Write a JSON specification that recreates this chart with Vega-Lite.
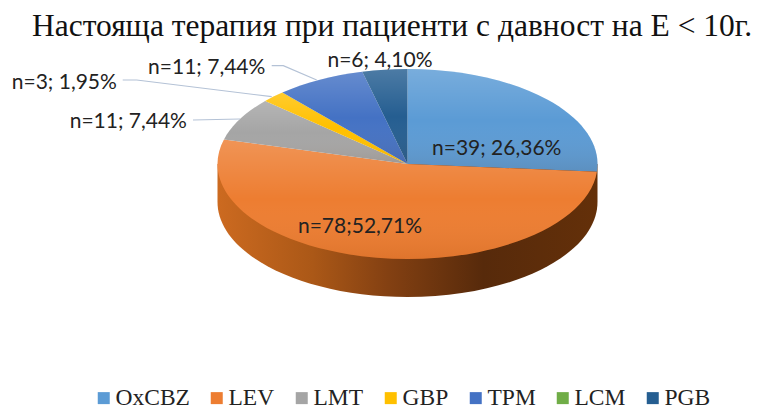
{
"$schema":"https://vega.github.io/schema/vega-lite/v6.json",
"width":770,"height":411,"padding":0,"autosize":{"type":"none"},
"background":"white",
"title":{"text":"Настояща терапия при пациенти с давност на Е < 10г.","font":"Liberation Serif","fontSize":31.5,"fontWeight":"normal","color":"#111111","anchor":"middle","dx":7,"offset":-42,"frame":"group"},
"config":{"view":{"stroke":null}},
"data":{"values":[
{"drug":"OxCBZ","slice":"OxCBZ slice","n":39,"pct":26.36,"label":"n=39; 26,36%"},
{"drug":"LEV","slice":"LEV slice","n":78,"pct":52.71,"label":"n=78;52,71%"},
{"drug":"LMT","slice":"LMT slice","n":11,"pct":7.44,"label":"n=11; 7,44%"},
{"drug":"GBP","slice":"GBP slice","n":3,"pct":1.95,"label":"n=3; 1,95%"},
{"drug":"TPM","slice":"TPM slice","n":11,"pct":7.44,"label":"n=11; 7,44%"},
{"drug":"LCM","slice":"LCM slice","n":0,"pct":0,"label":""},
{"drug":"PGB","slice":"PGB slice","n":6,"pct":4.10,"label":"n=6; 4,10%"}
]},
"layer":[
{"transform":[{"filter":"datum.drug==='LEV'"}],
 "mark":{"type":"point","size":4,"filled":true,"opacity":1,"strokeWidth":0,
  "shape":"M212.5,-41.5 L212.5,-3.5 A190,95 0 0 1 -167.5,-3.5 L-167.5,-41.5 Z",
  "fill":{"gradient":"linear","x1":0,"y1":0,"x2":1,"y2":0,"stops":[{"offset":0,"color":"#cc6a20"},{"offset":0.25,"color":"#ab5817"},{"offset":0.45,"color":"#834012"},{"offset":0.7,"color":"#572a0b"},{"offset":1,"color":"#643009"}]}},
 "encoding":{}},
{"mark":{"type":"point","size":4,"filled":true,"opacity":1,"strokeWidth":0},
 "encoding":{
  "color":{"field":"drug","type":"nominal","scale":{"domain":["OxCBZ","LEV","LMT","GBP","TPM","LCM","PGB"],"range":["#5B9BD5","#ED7D31","#A5A5A5","#FFC000","#4472C4","#70AD47","#255E91"]},
   "legend":{"title":null,"orient":"none","legendX":92,"legendY":386,"direction":"horizontal","columns":7,"symbolType":"square","symbolSize":144,"symbolStrokeWidth":0,"labelFont":"Liberation Serif","labelFontSize":23.5,"labelColor":"#222222","columnPadding":15,"labelOffset":0}},
  "shape":{"field":"slice","type":"nominal","legend":null,"scale":{"domain":["OxCBZ slice","LEV slice","LMT slice","GBP slice","TPM slice","LCM slice","PGB slice"],"range":[
   "M22.5,-41.5 L22.5,-136.5 A190,95 0 0 1 211.9,-33.8 Z",
   "M22.5,-41.5 L211.9,-33.8 A190,95 0 1 1 -161,-66.1 Z",
   "M22.5,-41.5 L-161,-66.1 A190,95 0 0 1 -119.8,-104.5 Z",
   "M22.5,-41.5 L-119.8,-104.5 A190,95 0 0 1 -102.6,-113 Z",
   "M22.5,-41.5 L-102.6,-113 A190,95 0 0 1 -22.7,-133.75 Z",
   "M0,0",
   "M22.5,-41.5 L-22.7,-133.75 A190,95 0 0 1 22.5,-136.5 Z"]}}
 }},
{"mark":{"type":"point","size":4,"filled":true,"opacity":1,"strokeWidth":0,
  "fill":{"gradient":"linear","x1":0,"y1":0,"x2":0,"y2":1,"stops":[{"offset":0,"color":"rgba(255,255,255,0.18)"},{"offset":0.5,"color":"rgba(255,255,255,0)"},{"offset":1,"color":"rgba(100,40,0,0.1)"}]}},
 "encoding":{"shape":{"field":"slice","type":"nominal","legend":null}}},
{"transform":[{"filter":"datum.drug==='LMT'"}],"mark":{"type":"point","size":4,"filled":false,"fillOpacity":0,"opacity":1,"stroke":"#b4c2d6","strokeWidth":1.2,"shape":"M-192,-85.5 L-145,-86.5"},"encoding":{}},
{"transform":[{"filter":"datum.drug==='GBP'"}],"mark":{"type":"point","size":4,"filled":false,"fillOpacity":0,"opacity":1,"stroke":"#b4c2d6","strokeWidth":1.2,"shape":"M-262.3,-125.5 L-248.3,-125.5 L-113.3,-108.8"},"encoding":{}},
{"transform":[{"filter":"datum.drug==='TPM'"}],"mark":{"type":"point","size":4,"filled":false,"fillOpacity":0,"opacity":1,"stroke":"#b4c2d6","strokeWidth":1.2,"shape":"M-113.3,-139.8 L-101.7,-139.8 L-68.3,-125.5"},"encoding":{}},
{"transform":[{"filter":"datum.drug==='OxCBZ'"}],"mark":{"type":"text","font":"Lato","fontSize":21,"color":"#222222","baseline":"middle","dx":111.7,"dy":-56.2},"encoding":{"text":{"field":"label"}}},
{"transform":[{"filter":"datum.drug==='LEV'"}],"mark":{"type":"text","font":"Lato","fontSize":21,"color":"#222222","baseline":"middle","dx":-25,"dy":21.2},"encoding":{"text":{"field":"label"}}},
{"transform":[{"filter":"datum.drug==='LMT'"}],"mark":{"type":"text","font":"Lato","fontSize":21,"color":"#222222","baseline":"middle","dx":-256.7,"dy":-83.2},"encoding":{"text":{"field":"label"}}},
{"transform":[{"filter":"datum.drug==='GBP'"}],"mark":{"type":"text","font":"Lato","fontSize":21,"color":"#222222","baseline":"middle","dx":-320.7,"dy":-122.2},"encoding":{"text":{"field":"label"}}},
{"transform":[{"filter":"datum.drug==='TPM'"}],"mark":{"type":"text","font":"Lato","fontSize":21,"color":"#222222","baseline":"middle","dx":-178.3,"dy":-137.2},"encoding":{"text":{"field":"label"}}},
{"transform":[{"filter":"datum.drug==='PGB'"}],"mark":{"type":"text","font":"Lato","fontSize":21,"color":"#222222","baseline":"middle","dx":-5,"dy":-144.8},"encoding":{"text":{"field":"label"}}}
]
}
